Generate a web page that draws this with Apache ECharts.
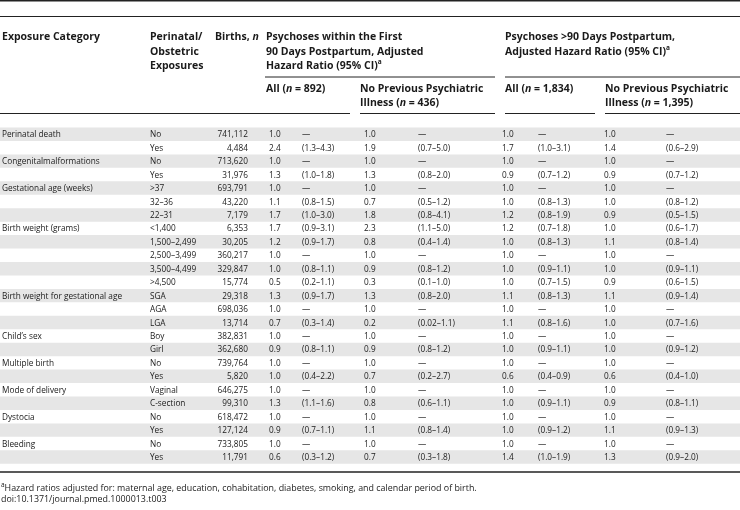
<!DOCTYPE html>
<html><head><meta charset="utf-8">
<script src="https://cdn.jsdelivr.net/npm/echarts@6/dist/echarts.min.js"></script>
<style>html,body{margin:0;padding:0;background:#fff}#c{width:740px;height:510px}</style>
</head><body><div id="c"></div>
<script>
const exposureCategories = ['Perinatal death','','Congenitalmalformations','','Gestational age (weeks)','','','Birth weight (grams)','','','','','Birth weight for gestational age','','','Child\u2019s sex','','Multiple birth','','Mode of delivery','','Dystocia','','Bleeding',''];
const exposureLevels = ['No','Yes','No','Yes','>37','32\u201336','22\u201331','<1,400','1,500\u20132,499','2,500\u20133,499','3,500\u20134,499','>4,500','SGA','AGA','LGA','Boy','Girl','No','Yes','Vaginal','C-section','No','Yes','No','Yes'];
const births = [741112,4484,713620,31976,693791,43220,7179,6353,30205,360217,329847,15774,29318,698036,13714,382831,362680,739764,5820,646275,99310,618472,127124,733805,11791];
const hrEarlyAll = [1.0,2.4,1.0,1.3,1.0,1.1,1.7,1.7,1.2,1.0,1.0,0.5,1.3,1.0,0.7,1.0,0.9,1.0,1.0,1.0,1.3,1.0,0.9,1.0,0.6];
const ciEarlyAll = ['\u2014','(1.3\u20134.3)','\u2014','(1.0\u20131.8)','\u2014','(0.8\u20131.5)','(1.0\u20133.0)','(0.9\u20133.1)','(0.9\u20131.7)','\u2014','(0.8\u20131.1)','(0.2\u20131.1)','(0.9\u20131.7)','\u2014','(0.3\u20131.4)','\u2014','(0.8\u20131.1)','\u2014','(0.4\u20132.2)','\u2014','(1.1\u20131.6)','\u2014','(0.7\u20131.1)','\u2014','(0.3\u20131.2)'];
const hrEarlyNoPrev = [1.0,1.9,1.0,1.3,1.0,0.7,1.8,2.3,0.8,1.0,0.9,0.3,1.3,1.0,0.2,1.0,0.9,1.0,0.7,1.0,0.8,1.0,1.1,1.0,0.7];
const ciEarlyNoPrev = ['\u2014','(0.7\u20135.0)','\u2014','(0.8\u20132.0)','\u2014','(0.5\u20131.2)','(0.8\u20134.1)','(1.1\u20135.0)','(0.4\u20131.4)','\u2014','(0.8\u20131.2)','(0.1\u20131.0)','(0.8\u20132.0)','\u2014','(0.02\u20131.1)','\u2014','(0.8\u20131.2)','\u2014','(0.2\u20132.7)','\u2014','(0.6\u20131.1)','\u2014','(0.8\u20131.4)','\u2014','(0.3\u20131.8)'];
const hrLateAll = [1.0,1.7,1.0,0.9,1.0,1.0,1.2,1.2,1.0,1.0,1.0,1.0,1.1,1.0,1.1,1.0,1.0,1.0,0.6,1.0,1.0,1.0,1.0,1.0,1.4];
const ciLateAll = ['\u2014','(1.0\u20133.1)','\u2014','(0.7\u20131.2)','\u2014','(0.8\u20131.3)','(0.8\u20131.9)','(0.7\u20131.8)','(0.8\u20131.3)','\u2014','(0.9\u20131.1)','(0.7\u20131.5)','(0.8\u20131.3)','\u2014','(0.8\u20131.6)','\u2014','(0.9\u20131.1)','\u2014','(0.4\u20130.9)','\u2014','(0.9\u20131.1)','\u2014','(0.9\u20131.2)','\u2014','(1.0\u20131.9)'];
const hrLateNoPrev = [1.0,1.4,1.0,0.9,1.0,1.0,0.9,1.0,1.1,1.0,1.0,0.9,1.1,1.0,1.0,1.0,1.0,1.0,0.6,1.0,0.9,1.0,1.1,1.0,1.3];
const ciLateNoPrev = ['\u2014','(0.6\u20132.9)','\u2014','(0.7\u20131.2)','\u2014','(0.8\u20131.2)','(0.5\u20131.5)','(0.6\u20131.7)','(0.8\u20131.4)','\u2014','(0.9\u20131.1)','(0.6\u20131.5)','(0.9\u20131.4)','\u2014','(0.7\u20131.6)','\u2014','(0.9\u20131.2)','\u2014','(0.4\u20131.0)','\u2014','(0.8\u20131.1)','\u2014','(0.9\u20131.3)','\u2014','(0.9\u20132.0)'];

const FONT = '"Open Sans", "Noto Sans", sans-serif';
const BODY = 9.6, BODY_SX = 0.86, HEAD = 10.5, FOOT = 8.9;
const TXT = '#1a1a1a';
const rowIdx = exposureLevels.map((_, i) => String(i));

const columns = [
  {text: exposureCategories, x: 2, align: 'left'},
  {text: exposureLevels, x: 150, align: 'left'},
  {text: births.map(v => v.toLocaleString('en-US')), x: 248, align: 'right'},
  {text: hrEarlyAll.map(v => v.toFixed(1)), x: 269, align: 'left'},
  {text: ciEarlyAll, x: 302, align: 'left'},
  {text: hrEarlyNoPrev.map(v => v.toFixed(1)), x: 364, align: 'left'},
  {text: ciEarlyNoPrev, x: 418, align: 'left'},
  {text: hrLateAll.map(v => v.toFixed(1)), x: 502, align: 'left'},
  {text: ciLateAll, x: 538, align: 'left'},
  {text: hrLateNoPrev.map(v => v.toFixed(1)), x: 604, align: 'left'},
  {text: ciLateNoPrev, x: 666, align: 'left'}
];

const stripeSeries = {
  type: 'custom', silent: true, clip: false, z: 1,
  encode: {x: 0, y: 1},
  data: rowIdx.filter((_, i) => i % 2 === 0).map(r => [0, r]),
  renderItem: function (params, api) {
    const c = api.coord([0, api.value(1)]);
    const h = api.size([0, 1])[1];
    return {type: 'rect', shape: {x: params.coordSys.x, y: c[1] - h / 2, width: params.coordSys.width, height: h},
            style: {fill: '#e6e6e6'}};
  }
};

const textSeries = columns.map(col => ({
  type: 'custom', silent: true, clip: false, z: 3,
  encode: {x: 0, y: 1},
  data: rowIdx.map(r => [col.x, r]),
  renderItem: function (params, api) {
    const c = api.coord([api.value(0), api.value(1)]);
    return {type: 'text', x: c[0], y: c[1] + 0.3, scaleX: BODY_SX,
      style: {text: col.text[params.dataIndex], fontSize: BODY, fontFamily: FONT, fill: TXT,
              align: col.align, verticalAlign: 'middle'}};
  }
}));

const rich = {
  i: {fontStyle: 'italic', fontWeight: 'bold', fontSize: HEAD, fontFamily: FONT, fill: TXT},
  sup: {fontSize: 6.5, fontWeight: 'bold', fontFamily: FONT, fill: TXT, verticalAlign: 'top', lineHeight: 15},
  supn: {fontSize: 6.5, fontFamily: FONT, fill: TXT, verticalAlign: 'top', lineHeight: 13}
};
function ht(x, y, text) {
  return {type: 'text', x: x, y: y, silent: true,
    style: {text: text, fontSize: HEAD, fontWeight: 'bold', fontFamily: FONT, fill: TXT,
            align: 'left', verticalAlign: 'middle', rich: rich}};
}
function hline(x1, x2, y, w) {
  return {type: 'line', silent: true, shape: {x1: x1, y1: y, x2: x2, y2: y}, style: {stroke: '#222', lineWidth: w || 1}};
}
const L1 = 37.5, L2 = 52, L3 = 66.5, S1 = 89, S2 = 103.5;
const graphics = [
  hline(0, 740, 0.75, 1.5),
  hline(0, 740, 16.5, 1),
  ht(2, L1, 'Exposure Category'),
  ht(150, L1, 'Perinatal/'), ht(150, L2, 'Obstetric'), ht(150, L3, 'Exposures'),
  ht(215, L1, 'Births, {i|n}'),
  ht(266, L1, 'Psychoses within the First'),
  ht(266, L2, '90 Days Postpartum, Adjusted'),
  ht(266, L3, 'Hazard Ratio (95% CI){sup|a}'),
  ht(505, L1, 'Psychoses >90 Days Postpartum,'),
  ht(505, L2, 'Adjusted Hazard Ratio (95% CI){sup|a}'),
  hline(265, 495, 77, 1), hline(505, 740, 77, 1),
  ht(266, S1, 'All ({i|n} = 892)'),
  ht(360, S1, 'No Previous Psychiatric'), ht(360, S2, 'Illness ({i|n} = 436)'),
  ht(505, S1, 'All ({i|n} = 1,834)'),
  ht(605, S1, 'No Previous Psychiatric'), ht(605, S2, 'Illness ({i|n} = 1,395)'),
  hline(0, 350, 113.5, 1), hline(360, 495, 113.5, 1), hline(505, 595, 113.5, 1), hline(605, 740, 113.5, 1),
  hline(0, 740, 472, 1.3),
  {type: 'text', x: 1, y: 488, silent: true,
   style: {text: '{supn|a}Hazard ratios adjusted for: maternal age, education, cohabitation, diabetes, smoking, and calendar period of birth.',
           fontSize: FOOT, fontFamily: FONT, fill: TXT, align: 'left', verticalAlign: 'middle', rich: rich}},
  {type: 'text', x: 1, y: 499, silent: true,
   style: {text: 'doi:10.1371/journal.pmed.1000013.t003', fontSize: FOOT, fontFamily: FONT, fill: TXT,
           align: 'left', verticalAlign: 'middle'}}
];

const chart = echarts.init(document.getElementById('c'), null, {renderer: 'canvas'});
chart.setOption({
  animation: false,
  backgroundColor: '#fff',
  grid: {left: 0, right: 0, top: 127.5, height: 25 * 13.45},
  xAxis: {type: 'value', min: 0, max: 740, show: false},
  yAxis: {type: 'category', data: rowIdx, inverse: true, show: false},
  series: [stripeSeries].concat(textSeries),
  graphic: graphics
});
</script></body></html>
